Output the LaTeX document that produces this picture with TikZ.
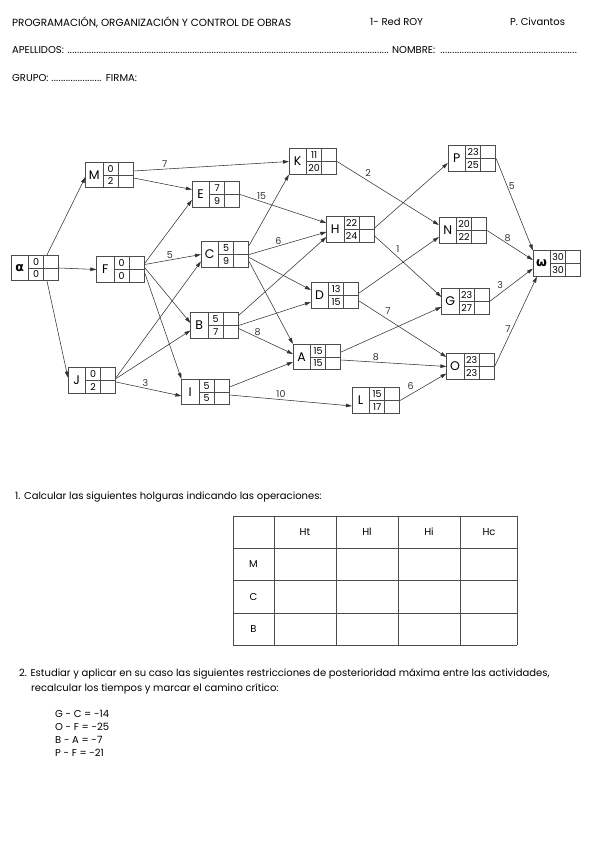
\documentclass[tikz,border=0pt]{standalone}
\usepackage{fontspec}
\setmainfont{Poppins}
\newfontfamily\greekfont{DejaVu Sans}
\usetikzlibrary{arrows.meta,calc}
\definecolor{boxgray}{gray}{0.3}
\definecolor{linegray}{gray}{0.2}

% one activity box: name, position, letter, early, late
\newcommand{\activity}[5]{%
  \node[actbox] (#1) at (#2) {};
  \draw[cellline] ([xshift=17.5pt]#1.north west) -- ([xshift=17.5pt]#1.south west)
    ([xshift=-15.5pt]#1.north east) -- ([xshift=-15.5pt]#1.south east)
    ([xshift=17.5pt]#1.west) -- (#1.east);
  \node[letter] at ([xshift=8.75pt]#1.west) {#3};
  \node[num] at ([xshift=25.25pt,yshift=6.4pt]#1.west) {#4};
  \node[num] at ([xshift=25.25pt,yshift=-6.4pt]#1.west) {#5};
}
\newcommand{\dotline}{\leaders\hbox to 2.4pt{\hss.\hss}\hfill}

\begin{document}
\begin{tikzpicture}[x=1pt, y=-1pt, font=\fontsize{10}{12}\selectfont,
      actbox/.style={draw=boxgray, line width=0.7pt, minimum width=47.5pt,
                     minimum height=25.5pt, inner sep=0pt},
      cellline/.style={boxgray, line width=0.7pt},
      letter/.style={font=\fontsize{12.5}{14}\selectfont, inner sep=0pt},
      num/.style={font=\fontsize{9.5}{10}\selectfont, inner sep=0pt},
      flow/.style={-{Triangle[length=6pt,width=3.6pt]}, linegray, line width=0.55pt},
      lbl/.style={font=\fontsize{9.5}{10}\selectfont, inner sep=1.5pt},
      txt/.style={anchor=west, inner sep=0pt},
      tab/.style={boxgray, line width=0.8pt}]
    \useasboundingbox (0,0) rectangle (600,848);

    % header
    \node[txt] (title) at (12,22) {\fontsize{10.4}{12}\selectfont PROGRAMACIÓN, ORGANIZACIÓN Y CONTROL DE OBRAS};
    \node[txt] (red) at (370,22) {1- Red ROY};
    \node[txt] (autor) at (510,22) {P. Civantos};
    \node[txt] (apellidos) at (12,50) {\makebox[378pt][l]{APELLIDOS: \dotline}};
    \node[txt] (nombre) at (392,50) {\makebox[186pt][l]{NOMBRE: \dotline}};
    \node[txt] (grupo) at (12,78) {GRUPO: \makebox[52pt]{\dotline} FIRMA:};

    % activities
    \activity{alpha}{35,268}{{\greekfont\bfseries α}}{0}{0}
    \activity{M}{109.5,175}{M}{0}{2}
    \activity{F}{120.5,269.5}{F}{0}{0}
    \activity{J}{92,380.5}{J}{0}{2}
    \activity{E}{216,194.5}{E}{7}{9}
    \activity{C}{225,254.5}{C}{5}{9}
    \activity{B}{214.5,325.5}{B}{5}{7}
    \activity{I}{205.5,392}{I}{5}{5}
    \activity{K}{313,161.5}{K}{11}{20}
    \activity{H}{350.5,229.5}{H}{22}{24}
    \activity{D}{335,295.5}{D}{13}{15}
    \activity{A}{317,357}{A}{15}{15}
    \activity{L}{376,400.5}{L}{15}{17}
    \activity{P}{472,158.5}{P}{23}{25}
    \activity{N}{463,230.5}{N}{20}{22}
    \activity{G}{465.5,301.5}{G}{23}{27}
    \activity{O}{470.5,366.5}{O}{23}{23}
    \activity{omega}{557,263.5}{{\greekfont\bfseries ω}}{30}{30}

    % links
    \draw[flow] ([xshift=12pt]alpha.north) -- ([yshift=-2pt]M.west);
    \draw[flow] (alpha.east) -- (F.west);
    \draw[flow] ([xshift=12pt]alpha.south) -- ([yshift=3pt]J.west);
    \draw[flow] ([yshift=4pt]M.east) -- node[lbl,pos=0.2,above]{7} (K.west);
    \draw[flow] ([yshift=-3pt]M.east) -- ([yshift=5pt]E.west);
    \draw[flow] ([yshift=6pt]F.east) -- ([yshift=-5.5pt]E.west);
    \draw[flow] ([yshift=5pt]F.east) -- node[lbl,pos=0.45,above]{5} (C.west);
    \draw[flow] ([yshift=2pt]F.east) -- ([yshift=2.5pt]B.west);
    \draw[flow] ([yshift=-3pt]F.east) -- (I.north west);
    \draw[flow] ([yshift=3pt]J.east) -- ([yshift=-7pt]C.west);
    \draw[flow] ([yshift=2pt]J.east) -- ([yshift=-5pt]B.west);
    \draw[flow] ([yshift=-1.5pt]J.east) -- node[lbl,pos=0.45,above]{3} ([yshift=-4pt]I.west);
    \draw[flow] (E.east) -- node[lbl,pos=0.25,above]{15} ([yshift=6.5pt]H.west);
    \draw[flow] ([yshift=9pt]C.east) -- (K.south west);
    \draw[flow] (C.east) -- node[lbl,pos=0.38,above]{6} ([yshift=-2.5pt]H.west);
    \draw[flow] ([yshift=-3pt]C.east) -- ([yshift=5.5pt]D.west);
    \draw[flow] ([yshift=-7pt]C.east) -- (A.north west);
    \draw[flow] ([yshift=10pt]B.east) -- ([yshift=-7.5pt]H.west);
    \draw[flow] (B.east) -- ([yshift=-6.5pt]D.west);
    \draw[flow] ([yshift=-3pt]B.east) -- node[lbl,pos=0.35,above]{8} ([yshift=3pt]A.west);
    \draw[flow] ([yshift=5pt]I.east) -- ([yshift=-5pt]A.west);
    \draw[flow] ([yshift=-3pt]I.east) -- node[lbl,pos=0.42,above]{10} ([yshift=-5.5pt]L.west);
    \draw[flow] (K.east) -- node[lbl,pos=0.26,above right]{2} ([yshift=5.5pt]N.west);
    \draw[flow] ([yshift=1.5pt]H.east) -- ([yshift=-4.5pt]P.west);
    \draw[flow] ([yshift=-6.5pt]H.east) -- node[lbl,pos=0.3,above right]{1} ([yshift=4.5pt]G.west);
    \draw[flow] ([yshift=2.5pt]D.east) -- ([yshift=-6.5pt]N.west);
    \draw[flow] ([yshift=-5.5pt]D.east) -- node[lbl,pos=0.28,above right]{7} ([yshift=9.5pt]O.west);
    \draw[flow] ([yshift=5pt]A.east) -- ([yshift=-5.5pt]G.west);
    \draw[flow] ([yshift=-3pt]A.east) -- node[lbl,pos=0.33,above]{8} (O.west);
    \draw[flow] (L.east) -- node[lbl,pos=0.33,above left]{6} ([yshift=-7pt]O.west);
    \draw[flow] (P.east) -- node[lbl,pos=0.3,right]{5} (omega.north west);
    \draw[flow] (N.east) -- node[lbl,pos=0.45,above]{8} ([yshift=3.5pt]omega.west);
    \draw[flow] (G.east) -- node[lbl,pos=0.35,above left]{3} ([yshift=-5pt]omega.west);
    \draw[flow] (O.east) -- node[lbl,pos=0.42,left]{7} ([xshift=4pt]omega.south west);

    % question 1
    \node[txt] (q1) at (15,497) {1. Calcular las siguientes holguras indicando las operaciones:};
    \foreach \x in {233,274,336,398,460,517}
      \draw[tab] (\x,516) -- (\x,645);
    \foreach \y in {516,548,580,613,645}
      \draw[tab] (233,\y) -- (517,\y);
    \node (ht) at (305,532) {Ht};
    \node (hl) at (367,532) {Hl};
    \node (hi) at (429,532) {Hi};
    \node (hc) at (489,532) {Hc};
    \node (rM) at (253.5,564) {M};
    \node (rC) at (253.5,596.5) {C};
    \node (rB) at (253.5,629) {B};

    % question 2
    \node[txt] (q2) at (19,674) {2. Estudiar y aplicar en su caso las siguientes restricciones de posterioridad máxima entre las actividades,};
    \node[txt] (q2b) at (31,689) {recalcular los tiempos y marcar el camino crítico:};
    \node[txt] (r1) at (55,714) {G - C = -14};
    \node[txt] (r2) at (55,727) {O - F = -25};
    \node[txt] (r3) at (55,740) {B - A = -7};
    \node[txt] (r4) at (55,753) {P - F = -21};
\end{tikzpicture}
\end{document}
